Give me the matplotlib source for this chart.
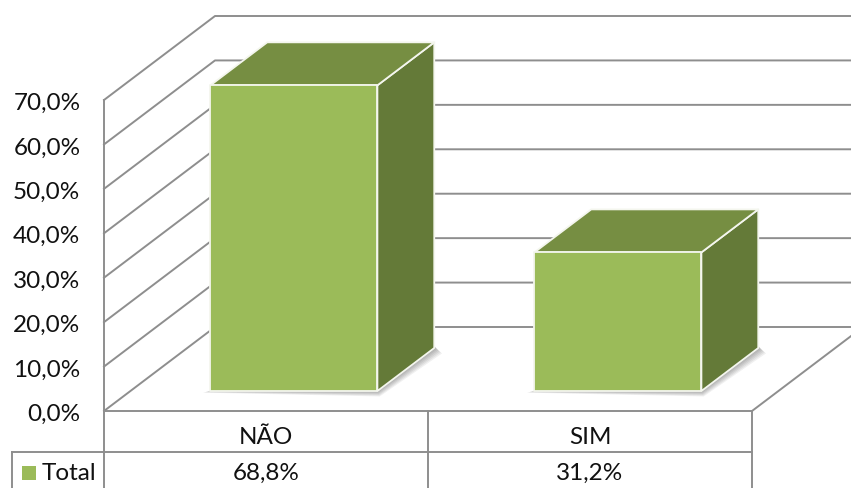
import matplotlib
matplotlib.use('Agg')
import matplotlib.pyplot as plt
from matplotlib.patches import Polygon
from matplotlib.transforms import ScaledTranslation

plt.rcParams['font.family'] = ['Lato', 'DejaVu Sans']

categories = ['NÃO', 'SIM']
values = [68.8, 31.2]
series_name = 'Total'
value_labels = ['68,8%', '31,2%']
y_ticks = [0, 10, 20, 30, 40, 50, 60, 70]
y_tick_labels = ['0,0%', '10,0%', '20,0%', '30,0%', '40,0%', '50,0%', '60,0%', '70,0%']

# tamanho da figura e da parede frontal em pixels
W, H = 851, 488
LEFT, RIGHT, TOP, BOTTOM = 104, 752, 100, 411
X_SCALE = (RIGHT - LEFT) / len(categories)
Y_SCALE = (BOTTOM - TOP) / y_ticks[-1]
DEPTH_X, DEPTH_Y = 111 / X_SCALE, 84 / Y_SCALE

GRID = '#8e8e8e'
FRONT = '#9bbb59'
TOP_FACE = '#768e42'
SIDE = '#647a38'
TEXT = '#111111'
FS = 17.5


def depth(x, y, d):
    # projecao obliqua: d=0 na frente, d=1 no fundo
    return x + d * DEPTH_X, y + d * DEPTH_Y


def line(ax, xs, ys, lw=1.4, z=1):
    ax.plot(xs, ys, color=GRID, lw=lw, clip_on=False, zorder=z, solid_capstyle='projecting')


def px_x(p):
    return (p - LEFT) / X_SCALE


def px_y(p):
    return (BOTTOM - p) / Y_SCALE


fig = plt.figure(figsize=(W / 100, H / 100), dpi=100)
ax = fig.add_axes([LEFT / W, 1 - BOTTOM / H, (RIGHT - LEFT) / W, (BOTTOM - TOP) / H])
ax.set_xlim(0, len(categories))
ax.set_ylim(0, y_ticks[-1])
ax.patch.set_alpha(0)
for s in ax.spines.values():
    s.set_visible(False)
ax.set_xticks([])
ax.set_yticks(y_ticks)
ax.set_yticklabels(y_tick_labels)
ax.tick_params(axis='y', length=0, pad=17, labelsize=FS, labelcolor=TEXT)

# desce um pouco os rotulos do eixo
shift = ScaledTranslation(0, -1.5 / 100, fig.dpi_scale_trans)
for lab in ax.get_yticklabels():
    lab.set_transform(lab.get_transform() + shift)

# grades da parede lateral e do fundo
for t in y_ticks:
    bx, by = depth(0, t, 1)
    ex, ey = depth(len(categories), t, 1)
    line(ax, [0, bx, ex], [t, by, ey])

# piso
fx, fy = depth(len(categories), 0, 1)
line(ax, [0, len(categories), fx], [0, 0, fy])

# barras 3D
bar_w = 167 / X_SCALE
d0, d1 = 0.238, 0.75
for i, v in enumerate(values):
    x0 = i + 0.5 - bar_w / 2 + 1.5 / X_SCALE
    x1 = x0 + bar_w

    # sombra difusa na base
    sx0, sy0 = depth(x1, 0, d0)
    sx1, sy1 = depth(x1, 0, d1)
    bx0, by0 = depth(x0, 0, d0)
    for k in range(1, 7):
        off = k * 1.3
        dx, dy = off / X_SCALE, off * 0.7 / Y_SCALE
        ax.add_patch(Polygon([(bx0 - dx, by0 - dy * 0.3), (sx0 + dx * 0.3, sy0 - dy),
                              (sx1 + dx, sy1 - dy), (sx1, sy1 + 2 / Y_SCALE), (sx0, sy0 + 2 / Y_SCALE),
                              (bx0, by0)],
                             closed=True, fc='#000000', ec='none', alpha=0.06,
                             clip_on=False, zorder=2))

    # faces
    front = [depth(x0, 0, d0), depth(x1, 0, d0), depth(x1, v, d0), depth(x0, v, d0)]
    top = [depth(x0, v, d0), depth(x1, v, d0), depth(x1, v, d1), depth(x0, v, d1)]
    side = [depth(x1, 0, d0), depth(x1, 0, d1), depth(x1, v, d1), depth(x1, v, d0)]
    for pts, col in [(side, SIDE), (top, TOP_FACE), (front, FRONT)]:
        ax.add_patch(Polygon(pts, closed=True, fc=col, ec='#f4f6ee', lw=1.3,
                             joinstyle='round', clip_on=False, zorder=3))

# tabela de dados abaixo do grafico
row1, row2 = px_y(452), px_y(488)
line(ax, [0, 0], [y_ticks[-1], row2 - 1])
line(ax, [1, 1], [0, row2 - 1])
line(ax, [2, 2], [0, row2 - 1])
line(ax, [px_x(12), 2], [row1, row1])
line(ax, [px_x(12), px_x(12)], [row1, row2 - 1])

for i, cat in enumerate(categories):
    ax.text(i + 0.5, px_y(438), cat, ha='center', va='center', fontsize=FS, color=TEXT, clip_on=False)
    ax.text(i + 0.5, px_y(473), value_labels[i], ha='center', va='center', fontsize=FS,
            color=TEXT, clip_on=False)

# legenda
ax.plot([px_x(28.5)], [px_y(472.5)], marker='s', ms=10, color=FRONT, mew=0, clip_on=False)
ax.text(px_x(42), px_y(473), series_name, ha='left', va='center', fontsize=FS, color=TEXT, clip_on=False)

fig.savefig('out.png', dpi=100, facecolor='white')
